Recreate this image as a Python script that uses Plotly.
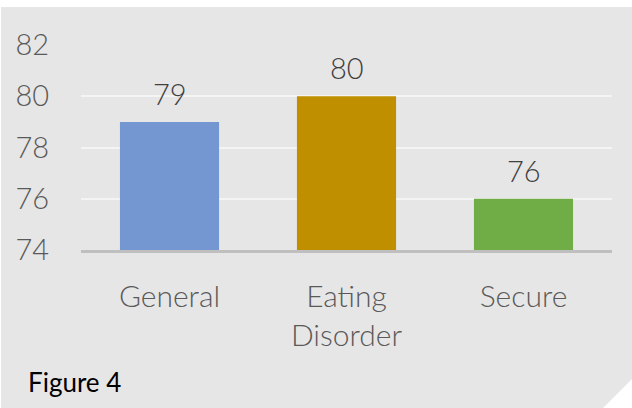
import plotly.graph_objects as go

categories = ["General", "Eating<br>Disorder", "Secure"]
values = [79, 80, 76]
colors = ["#7597D1", "#BF8F00", "#70AD47"]
y_ticks = [74, 76, 78, 80, 82]
caption = "Figure 4"

FONT = "Lato"
W, H = 632, 408
fig = go.Figure()
fig.add_trace(go.Bar(
    x=categories, y=values, marker=dict(color=colors, line=dict(width=0)),
    width=0.56, hoverinfo="skip",
))

# data labels above bars
for c, v in zip(categories, values):
    fig.add_annotation(x=c, y=v, xref="x", yref="y", text=str(v), showarrow=False,
                       yanchor="bottom", yshift=9,
                       font=dict(family=FONT, size=29, color="#404040", weight=300))

# background with folded corner
path = (f"M {1/W} {1-7/H} L 1 {1-7/H} L 1 {1-379/H} L {603/W} 0 L {1/W} 0 Z")
fig.add_shape(type="path", path=path, xref="paper", yref="paper",
              fillcolor="#E7E6E6", line=dict(width=0), layer="below")

fig.add_annotation(x=26/W, y=1-382/H, xref="paper", yref="paper", text=caption,
                   showarrow=False, xanchor="left", yanchor="middle",
                   font=dict(family=FONT, size=26, color="#000000"))

fig.update_layout(
    width=W, height=H, margin=dict(l=0, r=0, t=0, b=0, pad=0, autoexpand=False),
    paper_bgcolor="#FFFFFF", plot_bgcolor="rgba(0,0,0,0)",
    showlegend=False, bargap=0.44,
    xaxis=dict(domain=[81/W, 612/W], showgrid=False, zeroline=False,
               showline=True, linecolor="#BFBFBF", linewidth=2.5,
               ticks="outside", ticklen=18, tickcolor="rgba(0,0,0,0)",
               tickfont=dict(family=FONT, size=30, color="#595959", weight=300),
               automargin=False, fixedrange=True),
    yaxis=dict(domain=[1-250/H, 1-45/H], range=[74, 82], tickvals=y_ticks,
               showgrid=True, gridcolor="#F4F4F4", gridwidth=1.5, zeroline=False,
               showline=False, ticks="outside", ticklen=25, tickcolor="rgba(0,0,0,0)",
               tickfont=dict(family=FONT, size=29, color="#595959", weight=300),
               automargin=False, fixedrange=True),
)
fig.write_html("out.html")
